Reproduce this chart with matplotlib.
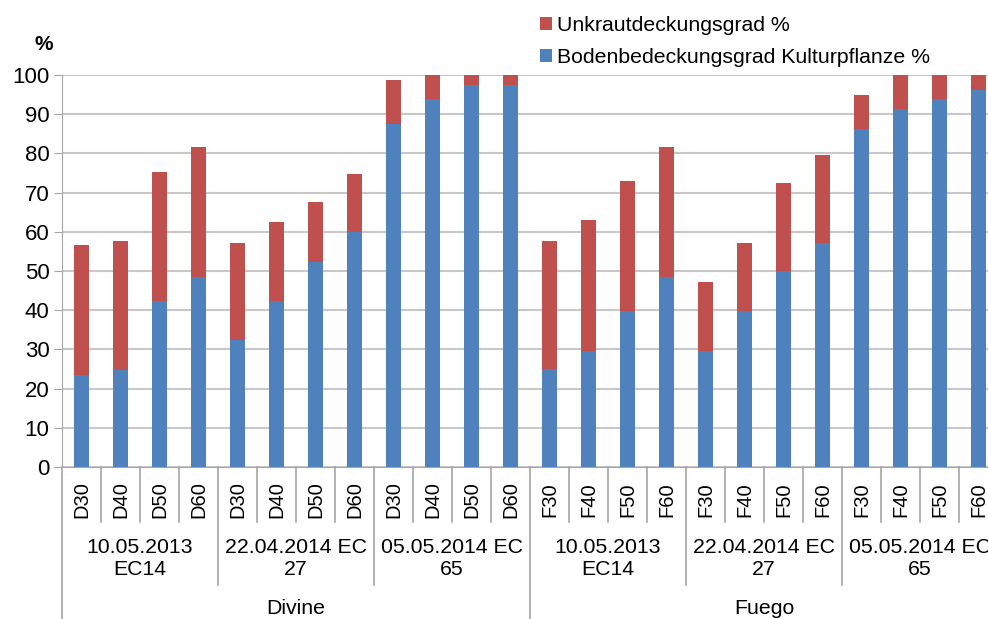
import matplotlib
matplotlib.use("Agg")
from matplotlib import pyplot as plt
import numpy as np

plt.rcParams['font.family'] = ['Liberation Sans', 'DejaVu Sans']

sorten = ['Divine', 'Fuego']
termine = ['10.05.2013\nEC14', '22.04.2014 EC\n27', '05.05.2014 EC\n65']
varianten = ['D30', 'D40', 'D50', 'D60', 'D30', 'D40', 'D50', 'D60', 'D30', 'D40', 'D50', 'D60',
             'F30', 'F40', 'F50', 'F60', 'F30', 'F40', 'F50', 'F60', 'F30', 'F40', 'F50', 'F60']
# Bodenbedeckungsgrad Kulturpflanze %
kultur = [23.5, 24.8, 42.3, 48.5, 32.4, 42.3, 52.3, 59.9, 87.4, 93.8, 97.4, 97.4,
          25.0, 29.7, 39.7, 48.5, 29.7, 39.7, 49.9, 57.1, 86.1, 91.2, 93.8, 96.2]
# Gesamthoehe (Kultur + Unkraut)
gesamt = [56.6, 57.7, 75.3, 81.7, 57.2, 62.5, 67.5, 74.8, 98.7, 100, 100, 100,
          57.7, 62.9, 72.9, 81.6, 47.3, 57.2, 72.4, 79.7, 95.0, 100, 100, 100]
unkraut = [g - k for g, k in zip(gesamt, kultur)]

blau = '#4F81BD'
rot = '#C0504D'
grau = '#A6A6A6'

fig = plt.figure(figsize=(9.88, 6.19), dpi=100)
ax = fig.add_axes([62/988, 1-467/619, 936/988, 392/619])

x = np.arange(len(varianten))
ax.bar(x, kultur, width=0.41, color=blau, zorder=3, label='Bodenbedeckungsgrad Kulturpflanze %')
ax.bar(x, unkraut, bottom=kultur, width=0.41, color=rot, zorder=3, label='Unkrautdeckungsgrad %')

ax.set_xlim(-0.5, 23.5)
ax.set_ylim(0, 100)
ax.set_yticks(range(0, 101, 10))
ax.tick_params(axis='y', labelsize=16, length=6, color=grau, pad=3)
ax.tick_params(axis='x', length=0, labelbottom=False)
ax.grid(axis='y', color='#C8C8C8', linewidth=1.5, zorder=0)
for s in ['top', 'right']:
    ax.spines[s].set_visible(False)
ax.spines['left'].set_color(grau)
ax.spines['bottom'].set_color(grau)

trans = ax.get_xaxis_transform()
# Kategorien-Beschriftung
for i, lab in enumerate(varianten):
    ax.text(i, -0.084, lab, transform=trans, rotation=90, ha='center', va='center', fontsize=14.5)
# Trennlinien
for i in range(1, 24):
    if i == 12:
        unten = -0.40
    elif i % 4 == 0:
        unten = -0.301
    else:
        unten = -0.140
    ax.plot([i-0.5, i-0.5], [0, unten], transform=trans, color=grau, lw=1.2, clip_on=False)
ax.plot([-0.5, -0.5], [0, -0.40], transform=trans, color=grau, lw=1.2, clip_on=False)
# Termine
for j in range(6):
    ax.text(j*4 + 1.5, -0.234, termine[j % 3], transform=trans, ha='center', va='center',
            fontsize=15.3, linespacing=1.2)
# Sorten
for j, s in enumerate(sorten):
    ax.text(j*12 + 5.5, -0.362, s, transform=trans, ha='center', va='center', fontsize=15.3)

fig.text(44/988, 1-44/619, '%', ha='center', va='center', fontsize=15, fontweight='bold')

h, l = ax.get_legend_handles_labels()
fig.legend(h[::-1], l[::-1], loc='upper left', bbox_to_anchor=(521/988, 1+3/619), frameon=False,
           fontsize=15.3, handlelength=0.55, handleheight=0.55, handletextpad=0.25, labelspacing=0.62)

fig.savefig('out.png', dpi=100)
